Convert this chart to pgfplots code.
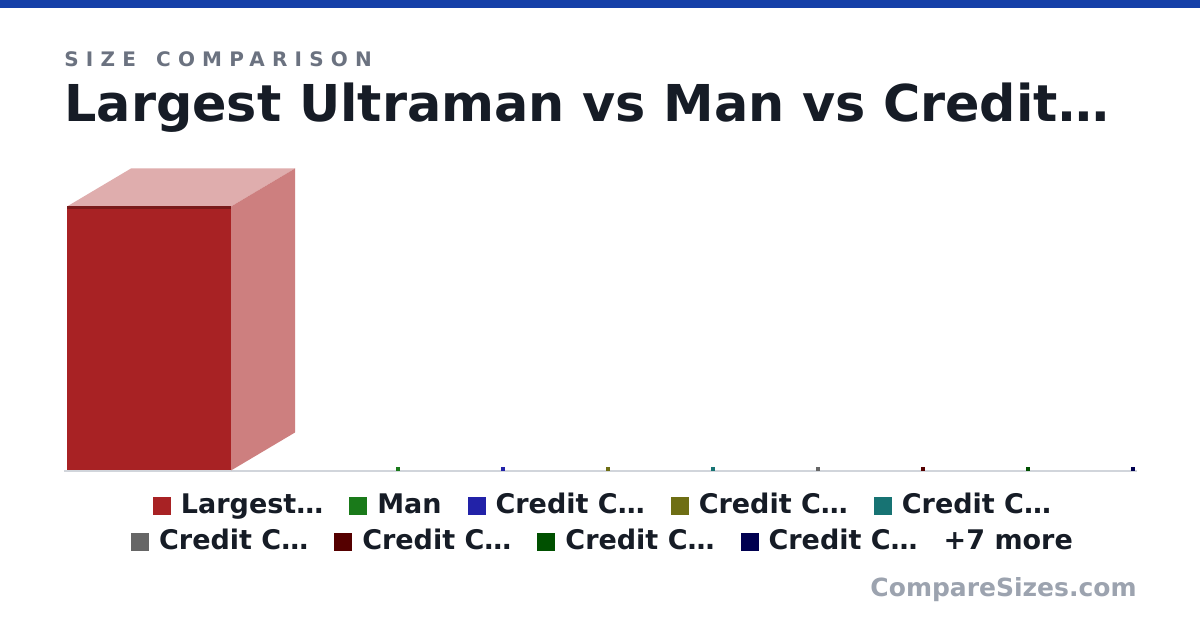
\documentclass[border=0pt]{standalone}
\usepackage{fontspec}
\setmainfont{DejaVu Sans}
\usepackage{pgfplots}
\pgfplotsset{compat=1.18}
\usepackage{xcolor}

\definecolor{topbar}{HTML}{1540A8}
\definecolor{kicker}{HTML}{6B7280}
\definecolor{ink}{HTML}{161C26}
\definecolor{wm}{HTML}{9CA3AF}
\definecolor{base}{HTML}{D1D5DB}
\definecolor{cA}{HTML}{A82224}
\definecolor{cAtop}{HTML}{DFADAD}
\definecolor{cAside}{HTML}{CD7F7F}
\definecolor{cAedge}{HTML}{7A1A1A}
\definecolor{cB}{HTML}{1A7A1A}
\definecolor{cC}{HTML}{2222A8}
\definecolor{cD}{HTML}{6E6E14}
\definecolor{cE}{HTML}{177373}
\definecolor{cF}{HTML}{666666}
\definecolor{cG}{HTML}{550000}
\definecolor{cH}{HTML}{005000}
\definecolor{cI}{HTML}{000050}

% x in pixel positions of the slots, heights in metres (1 m = 2.2 px)
\newcommand{\legitem}[2]{\raisebox{-0.5pt}{\textcolor{#1}{\rule{9pt}{9pt}}}\hspace{5pt}#2}

\begin{document}
\begin{tikzpicture}
\useasboundingbox (0,0) rectangle (600pt,315pt);
\fill[white] (0,0) rectangle (600pt,315pt);
\fill[topbar] (0,311pt) rectangle (600pt,315pt);

\node[anchor=base west,inner sep=0,text=kicker,font=\fontsize{10}{12}\selectfont\bfseries\addfontfeature{LetterSpace=36}]
  at (32pt,281.5pt) {SIZE\hspace{3pt} COMPARISON};
\node[anchor=base west,inner sep=0,text=ink,font=\fontsize{25.4}{30}\selectfont\bfseries]
  at (32pt,254pt) {Largest Ultraman vs Man vs Credit…};

\begin{axis}[
    at={(32pt,79.75pt)}, anchor=south west,
    scale only axis, width=536.5pt, height=151.25pt,
    xmin=64, xmax=1137, ymin=0, ymax=137.5,
    hide axis, clip=false,
]
% baseline
\addplot[base, line width=1pt] coordinates {(64,-0.45) (1137,-0.45)};
% Largest Ultraman: front, top, side, edge
\addplot[fill=cA, draw=none] coordinates {(67,0) (231,0) (231,120) (67,120)} -- cycle;
\addplot[fill=cAtop, draw=none] coordinates {(67,120) (231,120) (295,137.27) (131,137.27)} -- cycle;
\addplot[fill=cAside, draw=none] coordinates {(231,0) (231,120) (295,137.27) (295,17.27)} -- cycle;
\addplot[fill=cAedge, draw=none] coordinates {(67,118.65) (231,118.65) (231,120) (67,120)} -- cycle;
% the others are too small to show more than a speck
\addplot[only marks, mark=square*, mark size=0.6pt, cB] coordinates {(398,0.75)};
\addplot[only marks, mark=square*, mark size=0.6pt, cC] coordinates {(503,0.75)};
\addplot[only marks, mark=square*, mark size=0.6pt, cD] coordinates {(608,0.75)};
\addplot[only marks, mark=square*, mark size=0.6pt, cE] coordinates {(713,0.75)};
\addplot[only marks, mark=square*, mark size=0.6pt, cF] coordinates {(818,0.75)};
\addplot[only marks, mark=square*, mark size=0.6pt, cG] coordinates {(923,0.75)};
\addplot[only marks, mark=square*, mark size=0.6pt, cH] coordinates {(1028,0.75)};
\addplot[only marks, mark=square*, mark size=0.6pt, cI] coordinates {(1133,0.75)};
\end{axis}

\node[anchor=base,inner sep=0,text=ink,font=\fontsize{13.5}{16}\selectfont\bfseries] at (301pt,58pt)
  {\legitem{cA}{Largest…}\hspace{13pt}\legitem{cB}{Man}\hspace{13pt}\legitem{cC}{Credit C…}\hspace{13pt}\legitem{cD}{Credit C…}\hspace{13pt}\legitem{cE}{Credit C…}};
\node[anchor=base,inner sep=0,text=ink,font=\fontsize{13.5}{16}\selectfont\bfseries] at (301pt,40pt)
  {\legitem{cF}{Credit C…}\hspace{13pt}\legitem{cG}{Credit C…}\hspace{13pt}\legitem{cH}{Credit C…}\hspace{13pt}\legitem{cI}{Credit C…}\hspace{13pt}+7 more};

\node[anchor=base east,inner sep=0,text=wm,font=\fontsize{12.5}{15}\selectfont\bfseries] at (568.5pt,16.5pt) {CompareSizes.com};
\end{tikzpicture}
\end{document}
